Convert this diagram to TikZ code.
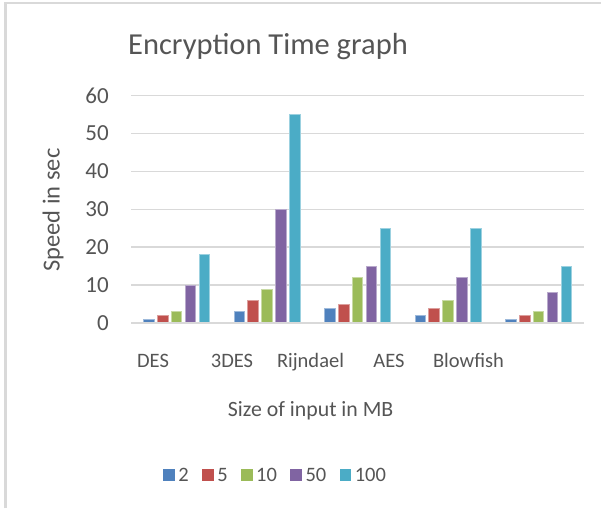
\documentclass[tikz,border=0pt]{standalone}
\usepackage{fontspec}
\setmainfont{Carlito}
\usetikzlibrary{positioning}
\definecolor{ink}{HTML}{555555}
\definecolor{rule}{HTML}{D9D9D9}
\definecolor{ser1}{HTML}{4F81BD}
\definecolor{ser2}{HTML}{C0504D}
\definecolor{ser3}{HTML}{9BBB59}
\definecolor{ser4}{HTML}{8064A2}
\definecolor{ser5}{HTML}{4BACC6}
\tikzstyle{frame}=[draw=rule, line width=2.5pt]
\tikzstyle{gridline}=[draw=rule, line width=1.5pt]
\tikzstyle{baseaxis}=[draw=rule, line width=2pt]
\tikzstyle{charttitle}=[text=ink, inner sep=0pt, font=\fontsize{30.5}{36}\selectfont]
\tikzstyle{ticklab}=[text=ink, inner sep=0pt, anchor=east, font=\fontsize{23}{27}\selectfont]
\tikzstyle{catlab}=[text=ink, inner sep=0pt, anchor=base, font=\fontsize{20.5}{24}\selectfont]
\tikzstyle{axtitle}=[text=ink, inner sep=0pt, font=\fontsize{21.8}{26}\selectfont]
\tikzstyle{swatch}=[minimum size=11.7pt, inner sep=0pt]
\tikzstyle{keytext}=[text=ink, inner sep=0pt, font=\fontsize{20.5}{24}\selectfont]

\begin{document}
\begin{tikzpicture}[x=1pt,y=1pt]
\useasboundingbox (0,0) rectangle (601,508);
\draw[frame] (5.5,0) -- (5.5,504.8) -- (601,504.8);
\node[charttitle, anchor=base] (title) at (268,453.5) {Encryption Time graph};

% value axis
\foreach \v in {0,10,...,60}
  \node[ticklab] (tick\v) at (109,185+3.79*\v) {\v};
\node[axtitle, rotate=90, font=\fontsize{24.5}{28}\selectfont] (ylab) at (53,298) {Speed in sec};

% plot area: one unit per algorithm, one unit per second
\begin{scope}[shift={(131,185)}, x=90.5pt, y=3.79pt]
\foreach \v in {10,20,...,60}
  \draw[gridline] (0,\v) -- (5,\v);
\foreach \grp/\vals in {0/{1,2,3,10,18}, 1/{3,6,9,30,55}, 2/{4,5,12,15,25},
                        3/{2,4,6,12,25}, 4/{1,2,3,8,15}}
  \foreach \v [count=\s] in \vals
    \filldraw[fill=ser\s, draw=ser\s!55!white, line width=0.6pt]
      (\grp+0.136+0.1536*\s-0.1536,0) rectangle +(0.118,\v);
\draw[baseaxis] (0,0) -- (5,0);
\end{scope}

% algorithm names
\node[catlab] (catDES) at (153,140.7) {DES};
\node[catlab] (cat3DES) at (232,140.7) {3DES};
\node[catlab] (catRij) at (310.5,140.7) {Rijndael};
\node[catlab] (catAES) at (389,140.7) {AES};
\node[catlab] (catBlow) at (468.5,140.7) {Blowfish};
\node[axtitle, anchor=base] (xlab) at (310.7,92) {Size of input in MB};

% legend
\node[swatch, fill=ser1] (k2) at (169.2,33.2) {};
\node[keytext, right=3pt of k2] (t2) {2};
\node[swatch, fill=ser2, right=13pt of t2] (k5) {};
\node[keytext, right=3pt of k5] (t5) {5};
\node[swatch, fill=ser3, right=13pt of t5] (k10) {};
\node[keytext, right=3pt of k10] (t10) {10};
\node[swatch, fill=ser4, right=13pt of t10] (k50) {};
\node[keytext, right=3pt of k50] (t50) {50};
\node[swatch, fill=ser5, right=13pt of t50] (k100) {};
\node[keytext, right=3pt of k100] (t100) {100};
\end{tikzpicture}
\end{document}
